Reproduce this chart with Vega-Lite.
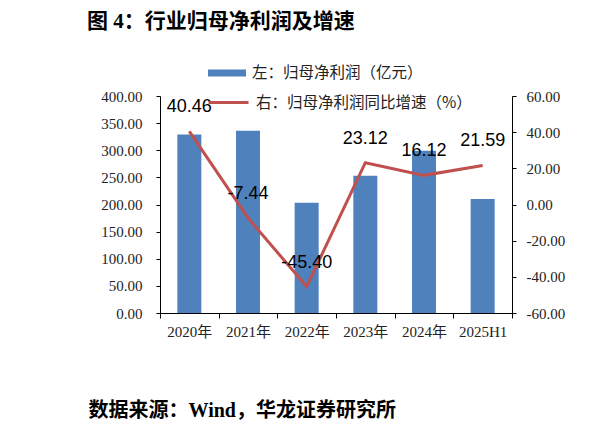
{
  "$schema": "https://vega.github.io/schema/vega-lite/v6.json",
  "width": 352,
  "height": 217,
  "autosize": {"type": "none"},
  "padding": {"left": 160, "top": 96, "right": 87, "bottom": 123},
  "background": "white",
  "title": {
    "text": "图 4：行业归母净利润及增速",
    "anchor": "start",
    "frame": "group",
    "dx": -73,
    "offset": 22,
    "font": "Liberation Serif, Noto Sans CJK SC",
    "fontSize": 21,
    "fontWeight": "bold",
    "color": "#000000"
  },
  "data": {
    "values": [
      {"period": "2020年", "profit": 329, "growth": 40.46},
      {"period": "2021年", "profit": 336, "growth": -7.44},
      {"period": "2022年", "profit": 203, "growth": -45.40},
      {"period": "2023年", "profit": 253, "growth": 23.12},
      {"period": "2024年", "profit": 299, "growth": 16.12},
      {"period": "2025H1", "profit": 210, "growth": 21.59}
    ]
  },
  "encoding": {
    "x": {
      "field": "period",
      "type": "nominal",
      "sort": null,
      "scale": {"paddingInner": 0, "paddingOuter": 0},
      "axis": {
        "title": "数据来源：Wind，华龙证券研究所",
        "titleX": -72,
        "titleY": 97,
        "titleAlign": "left",
        "titleAnchor": null,
        "titleBaseline": "middle",
        "titleFont": "Liberation Serif, Noto Sans CJK SC",
        "titleFontSize": 20,
        "titleFontWeight": "bold",
        "titleColor": "#000000",
        "labelAngle": 0,
        "labelFont": "Liberation Serif, Noto Sans CJK SC",
        "labelFontSize": 15,
        "labelColor": "#222222",
        "labelPadding": 6,
        "tickBand": "extent",
        "tickSize": 5,
        "tickColor": "#000000",
        "domainColor": "#000000",
        "grid": false
      }
    }
  },
  "layer": [
    {
      "mark": {"type": "bar", "width": 24},
      "encoding": {
        "y": {
          "field": "profit",
          "type": "quantitative",
          "scale": {"domain": [0, 400], "nice": false},
          "axis": {
            "title": null,
            "values": [0, 50, 100, 150, 200, 250, 300, 350, 400],
            "format": ".2f",
            "labelFont": "Liberation Serif",
            "labelFontSize": 15,
            "labelColor": "#222222",
            "labelPadding": 14,
            "tickSize": 4,
            "tickColor": "#000000",
            "domainColor": "#000000",
            "grid": false
          }
        },
        "fill": {
          "datum": "左：归母净利润（亿元）",
          "scale": {"range": ["#4F81BD"]},
          "legend": {
            "title": null,
            "orient": "none",
            "legendX": 48,
            "legendY": -42,
            "padding": 0,
            "symbolType": "M-1,-0.18H1V0.18H-1Z",
            "symbolSize": 1444,
            "symbolStrokeWidth": 0,
            "labelFont": "Noto Sans CJK SC",
            "labelFontSize": 15.5,
            "labelColor": "#222222",
            "labelOffset": 6,
            "labelLimit": 400
          }
        }
      }
    },
    {
      "encoding": {
        "y": {
          "field": "growth",
          "type": "quantitative",
          "scale": {"domain": [-60, 60], "nice": false},
          "axis": {
            "title": null,
            "orient": "right",
            "values": [-60, -40, -20, 0, 20, 40, 60],
            "format": ".2f",
            "labelFont": "Liberation Serif",
            "labelFontSize": 15,
            "labelColor": "#222222",
            "labelPadding": 10,
            "tickSize": 4,
            "tickColor": "#000000",
            "domainColor": "#000000",
            "grid": false
          }
        }
      },
      "layer": [
        {
          "mark": {"type": "line", "strokeWidth": 3},
          "encoding": {
            "stroke": {
              "datum": "右：归母净利润同比增速（%）",
              "scale": {"range": ["#C0504D"]},
              "legend": {
                "title": null,
                "orient": "none",
                "legendX": 47,
                "legendY": -15,
                "padding": 0,
                "symbolType": "stroke",
                "symbolSize": 1600,
                "symbolStrokeWidth": 3,
                "labelFont": "Noto Sans CJK SC",
                "labelFontSize": 15.5,
                "labelColor": "#222222",
                "labelOffset": 6,
                "labelLimit": 400
              }
            }
          }
        },
        {
          "mark": {"type": "text", "dy": -24, "font": "Liberation Sans", "fontSize": 18, "color": "#000000"},
          "encoding": {
            "text": {"field": "growth", "type": "quantitative", "format": ".2f"}
          }
        }
      ]
    }
  ],
  "resolve": {"scale": {"y": "independent"}},
  "config": {
    "view": {"stroke": null},
    "locale": {
      "number": {
        "decimal": ".",
        "thousands": ",",
        "grouping": [3],
        "currency": ["$", ""],
        "minus": "-"
      }
    }
  }
}
